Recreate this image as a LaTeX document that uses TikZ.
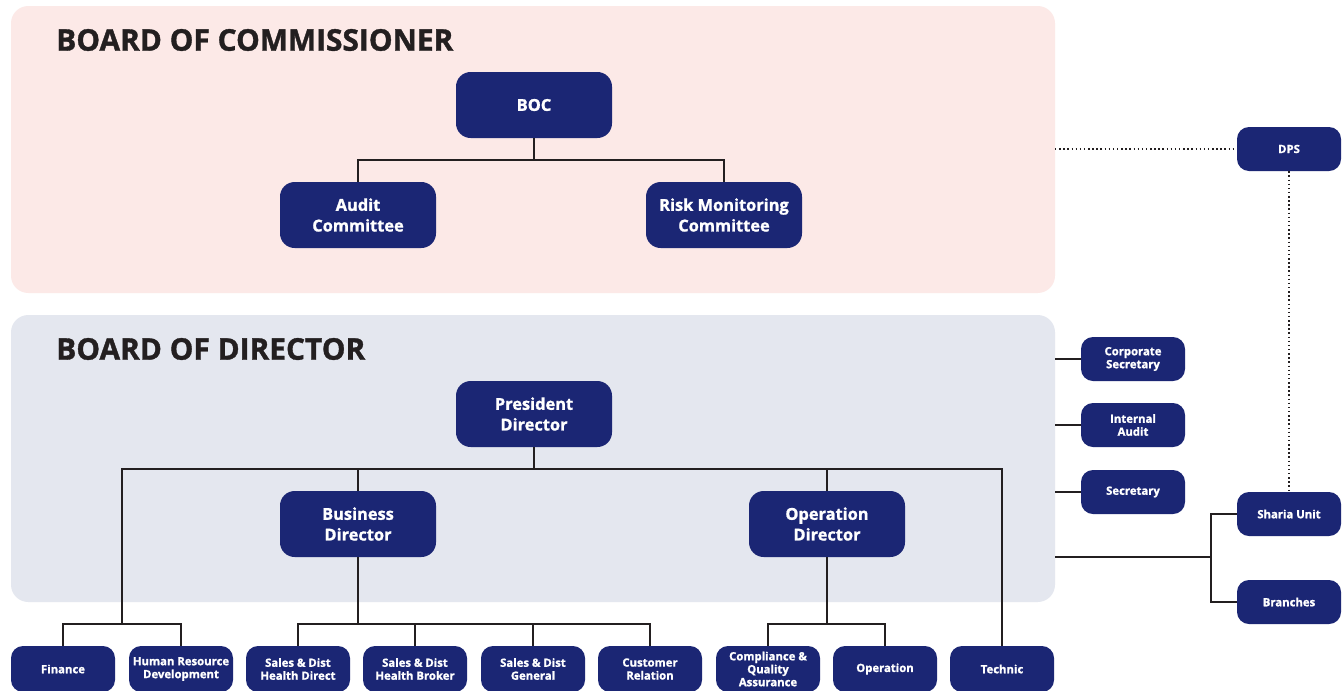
\documentclass[tikz,border=0pt]{standalone}
\usepackage{fontspec}
\setmainfont{Open Sans}[BoldFeatures={FakeBold=1.2}]
\usetikzlibrary{positioning}

\definecolor{navy}{HTML}{1B2674}
\definecolor{inkline}{HTML}{231F20}
\definecolor{boardpink}{HTML}{FCE9E7}
\definecolor{boardgrey}{HTML}{E4E7EF}

\tikzset{
  bigbox/.style={fill=navy, text=white, rounded corners=11pt, minimum width=117pt,
    minimum height=49.5pt, align=center, font=\bfseries\fontsize{12.3}{15.5}\selectfont, inner sep=0pt},
  sidebox/.style={fill=navy, text=white, rounded corners=9pt, minimum width=78pt,
    minimum height=33pt, align=center, font=\bfseries\fontsize{8.5}{9.7}\selectfont, inner sep=0pt},
  unitbox/.style={sidebox, minimum height=34.5pt, font=\bfseries\fontsize{8.5}{9.7}\selectfont},
  link/.style={draw=inkline, line width=1.2pt},
  dotlink/.style={draw=inkline, line width=1.1pt, dotted},
  boardtitle/.style={anchor=west, text=inkline, font=\bfseries\fontsize{22.4}{26}\selectfont, inner sep=0pt}
}

\begin{document}
\begin{tikzpicture}[x=0.75pt,y=-0.75pt]
\useasboundingbox (0,0) rectangle (1342,690);
\fill [white] (0,0) rectangle (1342,690);
% boards
\fill [boardpink, rounded corners=13pt] (11,6) rectangle (1055,293);
\fill [boardgrey, rounded corners=13pt] (11,315) rectangle (1055,602);
\node [boardtitle] (boctitle) at (56,40) {BOARD OF COMMISSIONER};
\node [boardtitle] (bodtitle) at (56,349) {BOARD OF DIRECTOR};
\coordinate (pinkedge) at (1055,149);
\coordinate (edgecs) at (1055,359);
\coordinate (edgeia) at (1055,425);
\coordinate (edgesec) at (1055,492);
\coordinate (edgesu) at (1055,557);

% commissioners
\node [bigbox] (boc) at (534,105) {BOC};
\node [bigbox] (audit) at (358,215) {Audit\\Committee};
\node [bigbox] (risk) at (724,215) {Risk Monitoring\\Committee};
\draw [link] (boc.south) -- ++(0,22) -| (audit.north);
\draw [link] (boc.south) -- ++(0,22) -| (risk.north);

% directors
\node [bigbox] (pres) at (534,414) {President\\Director};
\node [bigbox] (bus) at (358,524) {Business\\Director};
\node [bigbox] (ops) at (827,524) {Operation\\Director};

% units
\node [unitbox] (fin) at (63,669) {Finance};
\node [unitbox] (hrd) at (181,669) {Human Resource\\Development};
\node [unitbox] (sdhd) at (298,669) {Sales \& Dist\\Health Direct};
\node [unitbox] (sdhb) at (415,669) {Sales \& Dist\\Health Broker};
\node [unitbox] (sdg) at (533,669) {Sales \& Dist\\General};
\node [unitbox] (cr) at (650,669) {Customer\\Relation};
\node [unitbox] (cqa) at (768,669) {Compliance \&\\Quality\\Assurance};
\node [unitbox] (op) at (885,669) {Operation};
\node [unitbox] (tech) at (1002,669) {Technic};

\coordinate (finfork) at (122,624);
\draw [link] (pres.south) -- ++(0,22) -| (bus.north);
\draw [link] (pres.south) -- ++(0,22) -| (ops.north);
\draw [link] (pres.south) -- ++(0,22) -| (finfork);
\draw [link] (pres.south) -- ++(0,22) -| (tech.north);
\draw [link] (finfork) -| (fin.north);
\draw [link] (finfork) -| (hrd.north);
\foreach \u in {sdhd,sdhb,sdg,cr}
  \draw [link] (bus.south) -- ++(0,67) -| (\u.north);
\foreach \u in {cqa,op}
  \draw [link] (ops.south) -- ++(0,67) -| (\u.north);

% side units
\node [sidebox] (cs) at (1133,359) {Corporate\\Secretary};
\node [sidebox] (ia) at (1133,425) {Internal\\Audit};
\node [sidebox] (sec) at (1133,492) {Secretary};
\node [sidebox] (dps) at (1289,149) {DPS};
\node [sidebox] (su) at (1289,514) {Sharia Unit};
\node [sidebox] (br) at (1289,602) {Branches};
\draw [link] (edgecs) -- (cs.west);
\draw [link] (edgeia) -- (ia.west);
\draw [link] (edgesec) -- (sec.west);
\draw [link] (edgesu) -- ++(156,0) |- (su.west);
\draw [link] (edgesu) -- ++(156,0) |- (br.west);
\draw [dotlink] (pinkedge) -- (dps.west);
\draw [dotlink] (dps.south) -- (su.north);
\end{tikzpicture}
\end{document}
